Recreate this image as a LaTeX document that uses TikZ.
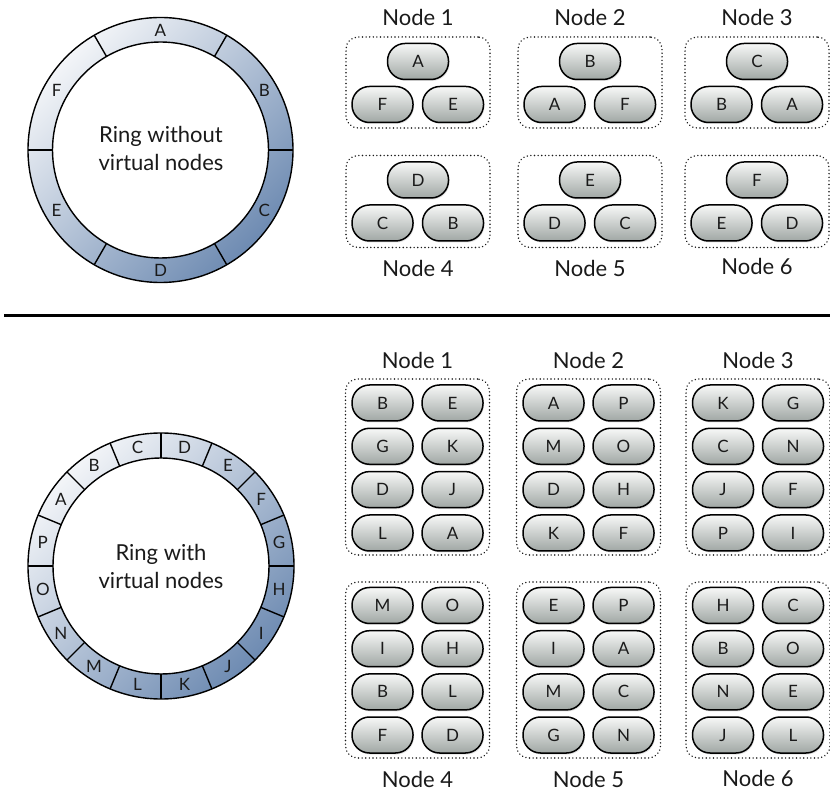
\documentclass[tikz,border=0pt]{standalone}
\usepackage{fontspec}
\setmainfont{Lato}
\usetikzlibrary{shadows}
\definecolor{ringlight}{HTML}{F3F5F8}
\definecolor{ringdark}{HTML}{6E8BB2}
\definecolor{pilltop}{HTML}{F7F8F7}
\definecolor{pillbot}{HTML}{A0A7A4}
\definecolor{ink}{HTML}{1A1A1A}
\tikzset{
  pill/.style={draw=black, line width=1.5pt, rounded corners=17.5pt,
    minimum width=61pt, minimum height=36pt, inner sep=0pt,
    top color=pilltop, bottom color=pillbot, text=ink,
    font=\fontsize{17}{17}\selectfont,
    drop shadow={opacity=0.22, shadow xshift=1pt, shadow yshift=-1.5pt}},
  groupbox/.style={draw=black!90, line width=1.6pt, line cap=round,
    dash pattern=on 0.01pt off 3.6pt, rounded corners=12pt,
    minimum width=144pt, inner sep=0pt},
  title/.style={font=\fontsize{22}{22}\selectfont, text=ink},
  ringtext/.style={font=\fontsize{22}{28}\selectfont, text=ink, align=center},
  seglabel/.style={font=\fontsize{17}{17}\selectfont, text=ink, inner sep=0pt},
  ringline/.style={line width=1.4pt, draw=black}
}
\begin{document}
\begin{tikzpicture}[x=1pt,y=1pt]
\useasboundingbox[fill=white] (0,0) rectangle (830,793);

% ---------- upper ring ----------
\coordinate (c1) at (160.5,643);
\path[even odd rule, top color=ringlight, bottom color=ringdark, shading angle=45]
  (c1) circle[radius=132.5] (c1) circle[radius=108];
\draw[ringline] (c1) circle[radius=132.5];
\draw[ringline] (c1) circle[radius=108];
\begin{scope}[shift={(c1)}]
  \foreach \a in {0,60,...,300}
    \draw[ringline] (\a:108) -- (\a:132.5);
  \foreach \l [count=\i from 0] in {A,B,C,D,E,F}
    \node[seglabel] (r1\l) at ({90-60*\i}:120) {\l};
\end{scope}
\node[ringtext] (ring1text) at (161,645) {Ring without\\virtual nodes};

% ---------- lower ring ----------
\coordinate (c2) at (161,227);
\path[even odd rule, top color=ringlight, bottom color=ringdark, shading angle=45]
  (c2) circle[radius=133] (c2) circle[radius=108];
\draw[ringline] (c2) circle[radius=133];
\draw[ringline] (c2) circle[radius=108];
\begin{scope}[shift={(c2)}]
  \foreach \k in {0,...,15}
    \draw[ringline] ({22.5*\k}:108) -- ({22.5*\k}:133);
  \foreach \l [count=\i from 0] in {A,B,C,D,E,F,G,H,I,J,K,L,M,N,O,P}
    \node[seglabel] (r2\l) at ({146.25-22.5*\i}:120.5) {\l};
\end{scope}
\node[ringtext] (ring2text) at (161,227) {Ring with\\virtual nodes};

% ---------- separator ----------
\coordinate (sepL) at (4,477.5);
\coordinate (sepR) at (830,477.5);
\draw[line width=3pt] (sepL) -- (sepR);

% ---------- upper groups ----------
\def\cA{418}\def\cB{590}\def\cC{757}
\node[title] (t1) at (\cA,776) {Node 1};
\node[title] (t2) at (\cB,776) {Node 2};
\node[title] (t3) at (\cC,776) {Node 3};
\node[title] (t4) at (\cA,525) {Node 4};
\node[title] (t5) at (\cB,525) {Node 5};
\node[title] (t6) at (\cC,527) {Node 6};

\foreach \cx/\nm in {\cA/1,\cB/2,\cC/3}
  \node[groupbox, minimum height=91pt] (ub\nm) at (\cx,710.5) {};
\foreach \cx/\nm in {\cA/4,\cB/5,\cC/6}
  \node[groupbox, minimum height=92pt] (ub\nm) at (\cx,591.5) {};

\foreach \cx/\nm/\p/\q/\r in {\cA/1/A/F/E, \cB/2/B/A/F, \cC/3/C/B/A}{
  \node[pill] (u\nm t) at (\cx,731.5) {\p};
  \node[pill] (u\nm l) at (\cx-35.5,688.5) {\q};
  \node[pill] (u\nm r) at (\cx+35,688.5) {\r};
}
\foreach \cx/\nm/\p/\q/\r in {\cA/4/D/C/B, \cB/5/E/D/C, \cC/6/F/E/D}{
  \node[pill] (u\nm t) at (\cx,613) {\p};
  \node[pill] (u\nm l) at (\cx-35.5,570) {\q};
  \node[pill] (u\nm r) at (\cx+35,570) {\r};
}

% ---------- lower groups ----------
\def\dA{417.5}\def\dB{588.5}\def\dC{758}
\node[title] (s1) at (\dA,433) {Node 1};
\node[title] (s2) at (\dB,433) {Node 2};
\node[title] (s3) at (\dC,433) {Node 3};
\node[title] (s4) at (\dA,13.5) {Node 4};
\node[title] (s5) at (\dB,13.5) {Node 5};
\node[title] (s6) at (\dC,15) {Node 6};

\foreach \cx/\nm in {\dA/1,\dB/2,\dC/3}
  \node[groupbox, minimum height=176pt] (lb\nm) at (\cx,326) {};
\foreach \cx/\nm in {\dA/4,\dB/5,\dC/6}
  \node[groupbox, minimum height=176pt] (lb\nm) at (\cx,123) {};

\foreach \cx/\nm/\a/\b/\c/\d/\e/\f/\g/\h in
  {\dA/1/B/E/G/K/D/J/L/A, \dB/2/A/P/M/O/D/H/K/F, \dC/3/K/G/C/N/J/F/P/I}{
  \node[pill] (l\nm a) at (\cx-35,390) {\a};
  \node[pill] (l\nm b) at (\cx+35,390) {\b};
  \node[pill] (l\nm c) at (\cx-35,346.7) {\c};
  \node[pill] (l\nm d) at (\cx+35,346.7) {\d};
  \node[pill] (l\nm e) at (\cx-35,303.4) {\e};
  \node[pill] (l\nm f) at (\cx+35,303.4) {\f};
  \node[pill] (l\nm g) at (\cx-35,260) {\g};
  \node[pill] (l\nm h) at (\cx+35,260) {\h};
}
\foreach \cx/\nm/\a/\b/\c/\d/\e/\f/\g/\h in
  {\dA/4/M/O/I/H/B/L/F/D, \dB/5/E/P/I/A/M/C/G/N, \dC/6/H/C/B/O/N/E/J/L}{
  \node[pill] (l\nm a) at (\cx-35,187.5) {\a};
  \node[pill] (l\nm b) at (\cx+35,187.5) {\b};
  \node[pill] (l\nm c) at (\cx-35,144.3) {\c};
  \node[pill] (l\nm d) at (\cx+35,144.3) {\d};
  \node[pill] (l\nm e) at (\cx-35,101.1) {\e};
  \node[pill] (l\nm f) at (\cx+35,101.1) {\f};
  \node[pill] (l\nm g) at (\cx-35,58) {\g};
  \node[pill] (l\nm h) at (\cx+35,58) {\h};
}
\end{tikzpicture}
\end{document}
